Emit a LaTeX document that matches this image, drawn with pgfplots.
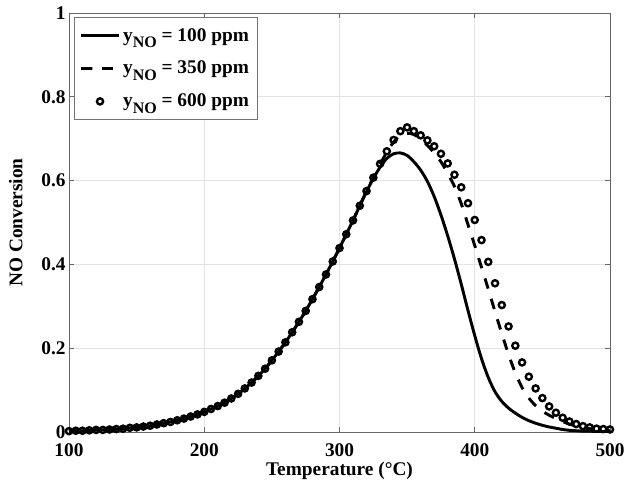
\documentclass[border=0pt]{standalone}
\usepackage{pgfplots}
\pgfplotsset{compat=1.18}
\usepackage{pgfplotstable}
\usepackage{fontspec}
\setmainfont{Liberation Serif}

% y with subscript NO, as in the legend
\newcommand{\yno}{y\raisebox{-0.7ex}{\fontsize{12}{12}\selectfont NO}}

% T, 100 ppm, 350 ppm, 600 ppm
\pgfplotstableread{
T   a      b      c
100 0.002  0.002  0.002
105 0.003  0.003  0.003
110 0.003  0.003  0.003
115 0.004  0.004  0.004
120 0.005  0.005  0.005
125 0.005  0.005  0.005
130 0.006  0.006  0.006
135 0.007  0.007  0.007
140 0.008  0.008  0.008
145 0.010  0.010  0.010
150 0.011  0.011  0.011
155 0.013  0.013  0.013
160 0.015  0.015  0.015
165 0.018  0.018  0.018
170 0.021  0.021  0.021
175 0.024  0.024  0.024
180 0.028  0.028  0.028
185 0.032  0.032  0.032
190 0.037  0.037  0.037
195 0.042  0.042  0.042
200 0.048  0.048  0.048
205 0.055  0.055  0.055
210 0.062  0.062  0.062
215 0.070  0.070  0.070
220 0.080  0.080  0.080
225 0.091  0.091  0.091
230 0.104  0.104  0.104
235 0.118  0.118  0.118
240 0.134  0.134  0.134
245 0.151  0.151  0.151
250 0.171  0.171  0.171
255 0.192  0.192  0.192
260 0.214  0.214  0.214
265 0.238  0.238  0.238
270 0.263  0.263  0.263
275 0.289  0.289  0.289
280 0.317  0.317  0.317
285 0.346  0.346  0.346
290 0.376  0.376  0.376
295 0.407  0.407  0.407
300 0.439  0.439  0.439
305 0.472  0.472  0.472
310 0.505  0.505  0.505
315 0.540  0.540  0.540
320 0.574  0.575  0.575
325 0.605  0.607  0.607
330 0.632  0.639  0.640
335 0.653  0.668  0.670
340 0.664  0.692  0.697
345 0.666  0.708  0.718
350 0.660  0.713  0.727
355 0.645  0.710  0.718
360 0.625  0.699  0.708
365 0.598  0.684  0.696
370 0.562  0.666  0.682
375 0.518  0.645  0.664
380 0.468  0.617  0.641
385 0.413  0.586  0.614
390 0.353  0.545  0.584
395 0.290  0.495  0.546
400 0.230  0.445  0.506
405 0.175  0.393  0.458
410 0.130  0.341  0.406
415 0.096  0.287  0.355
420 0.073  0.235  0.303
425 0.057  0.185  0.252
430 0.045  0.141  0.206
435 0.035  0.106  0.166
440 0.027  0.081  0.132
445 0.021  0.063  0.104
450 0.016  0.050  0.081
455 0.012  0.040  0.061
460 0.009  0.032  0.046
465 0.006  0.025  0.034
470 0.004  0.019  0.025
475 0.003  0.014  0.019
480 0.002  0.010  0.014
485 0.002  0.008  0.011
490 0.001  0.006  0.008
495 0.001  0.004  0.007
500 0.001  0.003  0.006
}\conv

\begin{document}
\begin{tikzpicture}
\begin{axis}[
    name=ax,
    scale only axis,
    width=405.75pt, height=314.25pt,
    xmin=100, xmax=500, ymin=0, ymax=1,
    xtick={100,200,300,400,500},
    ytick={0,0.2,0.4,0.6,0.8,1},
    grid=major,
    major grid style={black!11, line width=0.5pt},
    axis line style={black!60, line width=0.6pt},
    every tick/.style={black!60, line width=0.6pt},
    major tick length=3.5pt,
    /pgf/number format/assume math mode=true,
    tick label style={font=\fontsize{14.5}{17}\selectfont\bfseries},
    xticklabel style={yshift=-5pt},
    yticklabel style={xshift=1pt},
    every axis x label/.style={at={(axis description cs:0.5,0)}, anchor=center,
        yshift=-29pt, font=\fontsize{14.5}{17}\selectfont\bfseries},
    every axis y label/.style={at={(axis description cs:0,0.5)}, anchor=center,
        rotate=90, yshift=40pt, font=\fontsize{14.5}{17}\selectfont\bfseries},
    xlabel={Temperature (°C)},
    ylabel={NO Conversion},
    legend image code/.code={\draw[mark repeat=2,mark phase=2,#1] plot coordinates {(0cm,0cm) (0.5cm,0cm) (1.0cm,0cm)};},
    legend style={at={(rel axis cs:0.009,0.99)}, anchor=north west,
        draw=black!55, line width=0.6pt, fill=white,
        font=\fontsize{14.5}{17}\selectfont\bfseries,
        row sep=9.5pt, inner xsep=4pt, inner ysep=6pt},
    legend cell align=left,
]
\addplot[black, line width=2.2pt, smooth] table[x=T, y=a] {\conv};
\addlegendentry{\yno{} = 100 ppm}
\addplot[black, line width=2.2pt, dash pattern=on 8pt off 8pt, smooth] table[x=T, y=b] {\conv};
\addlegendentry{\yno{} = 350 ppm}
\addplot[black, only marks, mark=o, mark size=2.3pt, mark options={line width=1.8pt}] table[x=T, y=c] {\conv};
\addlegendentry{\yno{} = 600 ppm}
\end{axis}
\pgfresetboundingbox
\path[use as bounding box] ([shift={(-51.75pt,-45pt)}]ax.south west) rectangle ([shift={(12.75pt,9.75pt)}]ax.north east);
\end{tikzpicture}
\end{document}
